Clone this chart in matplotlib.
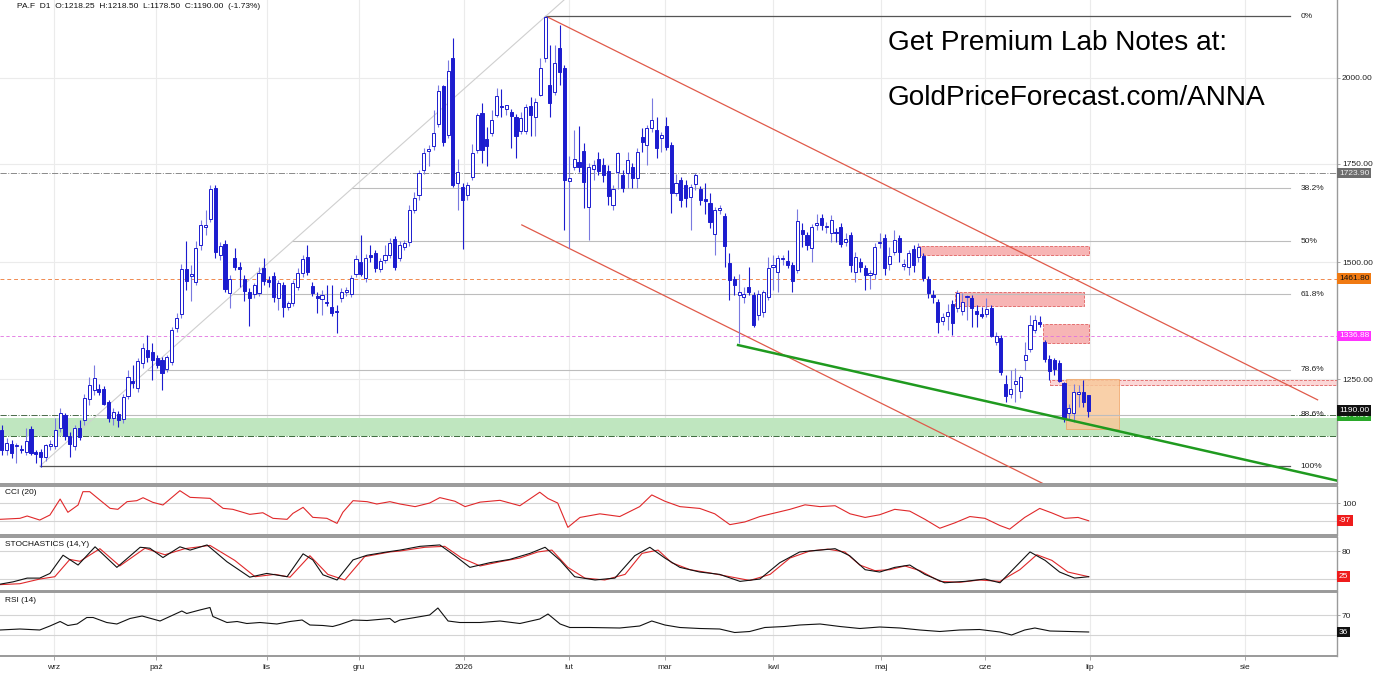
import numpy as np
import matplotlib
matplotlib.use("Agg")
import matplotlib.pyplot as plt
from matplotlib.patches import Rectangle
from matplotlib import ticker

plt.rcParams['font.family'] = ['Liberation Sans', 'DejaVu Sans']

# daily candles (one per trading day)
opens = [1154, 1118, 1129, 1125, 1121, 1116, 1156, 1116, 1116, 1106, 1125, 1125, 1158, 1181, 1143, 1125, 1158, 1172, 1211, 1228,
         1230, 1230, 1205, 1176, 1183, 1174, 1217, 1246, 1232, 1281, 1307, 1303, 1291, 1287, 1269, 1283, 1353, 1383, 1484, 1468,
         1454, 1541, 1586, 1604, 1684, 1517, 1543, 1429, 1510, 1489, 1461, 1432, 1427, 1429, 1487, 1459, 1468, 1419, 1447, 1399,
         1407, 1443, 1475, 1513, 1445, 1423, 1416, 1410, 1399, 1390, 1419, 1432, 1427, 1472, 1501, 1463, 1517, 1522, 1485, 1505,
         1517, 1555, 1510, 1536, 1548, 1627, 1666, 1732, 1784, 1798, 1861, 1975, 1830, 2063, 1698, 1687, 1666, 1714, 1787, 1894,
         1818, 1836, 1888, 1914, 1905, 1897, 1882, 1841, 1841, 1914, 1882, 1948, 2063, 1978, 1957, 2095, 2032, 1704, 1740, 1755,
         1784, 1635, 1735, 1762, 1746, 1730, 1640, 1727, 1719, 1724, 1740, 1711, 1824, 1801, 1849, 1844, 1821, 1855, 1801, 1671,
         1706, 1692, 1660, 1695, 1682, 1655, 1645, 1567, 1627, 1612, 1499, 1461, 1425, 1421, 1443, 1425, 1381, 1388, 1421, 1489,
         1477, 1508, 1503, 1494, 1482, 1577, 1565, 1534, 1589, 1607, 1584, 1570, 1572, 1584, 1548, 1565, 1477, 1501, 1487, 1470,
         1472, 1546, 1558, 1496, 1524, 1558, 1491, 1489, 1531, 1512, 1515, 1461, 1425, 1410, 1368, 1379, 1405, 1396, 1390, 1421,
         1418, 1390, 1383, 1383, 1396, 1324, 1332, 1240, 1222, 1240, 1226, 1287, 1309, 1349, 1366, 1324, 1289, 1287, 1281, 1242,
         1185, 1185, 1222, 1224, 1218.25]
highs = [1163, 1140, 1136, 1131, 1128, 1158, 1161, 1118, 1121, 1130, 1136, 1176, 1195, 1186, 1150, 1163, 1172, 1222, 1254, 1277,
         1240, 1236, 1209, 1194, 1190, 1221, 1267, 1277, 1291, 1322, 1339, 1322, 1297, 1293, 1297, 1355, 1385, 1496, 1551, 1494,
         1551, 1602, 1627, 1692, 1692, 1548, 1553, 1470, 1534, 1500, 1470, 1440, 1452, 1489, 1510, 1468, 1477, 1459, 1454, 1412,
         1459, 1487, 1517, 1541, 1454, 1432, 1436, 1447, 1447, 1403, 1440, 1443, 1470, 1517, 1565, 1520, 1541, 1529, 1510, 1541,
         1558, 1563, 1551, 1553, 1640, 1674, 1732, 1792, 1801, 1902, 1978, 1978, 2057, 2128, 1762, 1697, 1700, 1804, 1894, 1923,
         1853, 1902, 1969, 1966, 1917, 1905, 1891, 1896, 1920, 1941, 1938, 2063, 2202, 2105, 2105, 2173, 2041, 1770, 1844, 1855,
         1807, 1752, 1760, 1781, 1765, 1746, 1692, 1781, 1732, 1781, 1752, 1792, 1849, 1858, 1938, 1882, 1838, 1882, 1810, 1722,
         1714, 1706, 1695, 1724, 1690, 1697, 1671, 1635, 1640, 1619, 1522, 1468, 1472, 1443, 1489, 1432, 1436, 1436, 1513, 1517,
         1517, 1517, 1529, 1501, 1629, 1594, 1572, 1592, 1617, 1617, 1597, 1614, 1582, 1594, 1570, 1572, 1524, 1510, 1494, 1482,
         1546, 1570, 1567, 1536, 1577, 1565, 1508, 1529, 1541, 1546, 1522, 1468, 1436, 1416, 1385, 1405, 1414, 1436, 1429, 1425,
         1425, 1403, 1399, 1418, 1403, 1345, 1339, 1257, 1267, 1271, 1257, 1324, 1381, 1381, 1379, 1328, 1297, 1291, 1287, 1244,
         1203, 1240, 1238, 1248, 1218.50]
lows = [1110, 1110, 1105, 1096, 1114, 1110, 1110, 1096, 1090, 1100, 1118, 1121, 1150, 1136, 1106, 1118, 1136, 1163, 1200, 1219,
        1220, 1200, 1168, 1163, 1159, 1167, 1211, 1232, 1224, 1271, 1283, 1248, 1271, 1228, 1263, 1277, 1345, 1374, 1436, 1412,
        1447, 1529, 1565, 1597, 1510, 1505, 1432, 1396, 1482, 1443, 1412, 1358, 1419, 1423, 1447, 1443, 1410, 1392, 1377, 1392,
        1401, 1436, 1466, 1470, 1423, 1385, 1381, 1401, 1379, 1343, 1410, 1423, 1421, 1466, 1468, 1454, 1501, 1477, 1477, 1498,
        1510, 1482, 1503, 1529, 1539, 1620, 1653, 1722, 1743, 1787, 1852, 1798, 1821, 1686, 1627, 1532, 1653, 1706, 1779, 1752,
        1743, 1827, 1882, 1882, 1888, 1792, 1764, 1833, 1833, 1827, 1827, 1944, 2050, 1882, 1948, 1978, 1577, 1534, 1732, 1727,
        1632, 1553, 1706, 1719, 1701, 1640, 1627, 1682, 1674, 1684, 1684, 1684, 1781, 1746, 1838, 1765, 1781, 1787, 1619, 1663,
        1635, 1635, 1577, 1679, 1640, 1617, 1582, 1517, 1617, 1488, 1414, 1425, 1322, 1407, 1425, 1355, 1370, 1377, 1414, 1436,
        1432, 1494, 1487, 1432, 1475, 1536, 1529, 1501, 1577, 1577, 1570, 1548, 1548, 1536, 1539, 1477, 1454, 1477, 1436, 1438,
        1461, 1534, 1470, 1482, 1517, 1501, 1482, 1470, 1477, 1501, 1456, 1419, 1407, 1343, 1360, 1349, 1339, 1388, 1381, 1370,
        1355, 1355, 1374, 1377, 1335, 1318, 1257, 1205, 1213, 1205, 1213, 1267, 1303, 1343, 1355, 1283, 1248, 1257, 1244, 1168,
        1172, 1168, 1196, 1196, 1178.50]
closes = [1118, 1132, 1114, 1128, 1118, 1134, 1114, 1112, 1106, 1127, 1129, 1154, 1186, 1143, 1130, 1158, 1141, 1213, 1238, 1252,
          1224, 1203, 1176, 1188, 1172, 1215, 1254, 1242, 1285, 1311, 1293, 1287, 1277, 1261, 1293, 1349, 1374, 1484, 1457, 1472,
          1534, 1591, 1591, 1682, 1524, 1539, 1438, 1461, 1489, 1485, 1434, 1419, 1447, 1475, 1456, 1454, 1421, 1452, 1399, 1407,
          1452, 1475, 1508, 1477, 1429, 1419, 1425, 1407, 1385, 1388, 1432, 1436, 1463, 1508, 1472, 1510, 1513, 1487, 1503, 1517,
          1546, 1489, 1541, 1546, 1627, 1658, 1724, 1779, 1790, 1836, 1960, 1809, 2022, 1692, 1727, 1653, 1692, 1779, 1888, 1787,
          1798, 1873, 1945, 1911, 1917, 1885, 1827, 1879, 1911, 1888, 1926, 2032, 2200, 1923, 2047, 2019, 1706, 1710, 1762, 1740,
          1700, 1740, 1746, 1730, 1719, 1663, 1682, 1779, 1684, 1760, 1711, 1781, 1810, 1849, 1873, 1792, 1830, 1796, 1671, 1698,
          1653, 1658, 1687, 1719, 1653, 1650, 1597, 1627, 1632, 1539, 1459, 1447, 1432, 1427, 1432, 1360, 1427, 1432, 1487, 1494,
          1510, 1510, 1494, 1456, 1600, 1567, 1541, 1584, 1594, 1589, 1587, 1602, 1570, 1543, 1555, 1494, 1512, 1489, 1470, 1475,
          1536, 1548, 1487, 1515, 1553, 1524, 1496, 1522, 1494, 1536, 1463, 1429, 1421, 1366, 1377, 1388, 1364, 1429, 1410, 1423,
          1396, 1383, 1379, 1394, 1337, 1337, 1263, 1217, 1230, 1246, 1254, 1297, 1360, 1370, 1362, 1289, 1265, 1269, 1246, 1176,
          1194, 1224, 1224, 1205, 1190.00]

# month ticks (position in bars)
month_pos = [10.7, 31.8, 54.6, 73.6, 95.3, 116.9, 136.7, 159.0, 181.2, 202.7, 224.3, 256.3]
month_lbl = ['wrz', 'paź', 'lis', 'gru', '2026', 'lut', 'mar', 'kwi', 'maj', 'cze', 'lip', 'sie']

# fibonacci anchors (bar, price) and ratios
fib_lo = (7.8, 1091.0)
fib_hi = (112.0, 2202.0)
fib_ratios = [0.0, 0.382, 0.5, 0.618, 0.786, 0.886, 1.0]
fib_names = ['0%', '38.2%', '50%', '61.8%', '78.6%', '88.6%', '100%']
fib_right = 265.6
diag_end = (115.9, 2259.0)

# trend lines (bar, price)
chan_upper = [(112.6, 2199.0), (271.3, 1210.0)]
chan_lower = [(107.2, 1590.0), (214.6, 1062.0)]
green_line = [(151.8, 1318.0), (275.1, 1067.0)]

# zones: (x0, x1, p_low, p_high)
red_zones = [(188.9, 224.1, 1517, 1538), (196.5, 223.1, 1400, 1431), (214.6, 224.1, 1322, 1362)]
red_band = (216.1, 275.3, 1238, 1249)
orange_zone = (219.4, 230.3, 1156, 1250)
green_zone = (1143, 1176)

# horizontal levels
lvl_grey = 1723.90
lvl_orange = 1461.80
lvl_magenta = 1336.88
lvl_close = 1190.00
lvl_green = 1179.91

# indicators: (bar, value)
cci_x = [-0.4, 3.7, 5.2, 7.8, 9.9, 12.0, 13.6, 15.7, 16.7, 18.1, 20.2, 22.3, 23.9, 25.8, 27.8, 29.1, 31.1, 33.2, 36.7, 38.8,
         42.9, 45.6, 47.6, 51.1, 53.8, 55.9, 58.8, 60.0, 62.1, 64.1, 67.0, 69.1, 70.3, 72.4, 75.3, 77.3, 80.0, 82.1, 85.2, 88.2,
         90.3, 93.4, 95.5, 98.6, 102.7, 106.8, 110.9, 112.6, 114.6, 116.7, 119.2, 123.3, 127.4, 131.5, 134.0, 136.7, 139.8, 143.9,
         147.0, 150.1, 153.2, 156.3, 159.4, 162.5, 165.6, 168.7, 171.8, 174.9, 178.0, 181.0, 184.1, 187.2, 190.3, 193.4, 196.5,
         199.6, 202.7, 205.8, 207.8, 210.9, 214.0, 216.5, 219.2, 221.9, 224.1]
cci_v = [-81, -70, -44, -89, -33, 144, -3, 78, 226, 226, 133, 41, 30, 115, 126, 159, 108, 78, 237, 163,
         152, 41, 30, -26, -8, -70, -81, -15, 52, -59, -70, -126, -3, 126, 115, 89, 115, 89, 60, 100,
         160, 120, 60, 110, 130, 70, 220, 150, 100, -170, -60, -20, -50, 60, 190, 120, 60, 40,
         -20, -140, -110, -50, -10, 30, 80, 60, 70, -20, -60, -30, 30, 10, -80, -180, -120,
         -50, -70, -150, -190, -60, 40, -10, -70, -60, -97]

stk_x = [-0.4, 2.3, 5.2, 7.8, 9.9, 12.6, 15.7, 19.2, 23.7, 28.5, 30.5, 33.2, 36.7, 38.8, 42.3, 46.4, 51.1, 54.6, 58.8, 62.1,
         64.1, 66.2, 69.1, 72.4, 75.3, 79.4, 82.1, 86.2, 90.3, 93.4, 96.5, 100.6, 104.7, 108.9, 112.0, 115.1, 118.1, 122.3, 126.4,
         130.5, 133.6, 136.7, 139.8, 143.9, 148.0, 152.2, 156.3, 160.4, 164.5, 168.7, 171.8, 174.8, 178.0, 181.0, 184.1, 187.2,
         190.3, 194.4, 198.6, 202.7, 205.8, 208.9, 212.0, 215.1, 218.1, 221.2, 224.1]
stk_k = [9, 14, 22, 22, 32, 71, 50, 89, 45, 88, 86, 66, 89, 82, 93, 57, 24, 32, 25, 74,
         61, 29, 18, 61, 71, 78, 82, 90, 93, 70, 45, 55, 62, 75, 88, 60, 25, 18, 22,
         70, 88, 65, 45, 35, 30, 15, 20, 55, 78, 82, 85, 70, 40, 35, 45, 50,
         30, 12, 15, 20, 12, 45, 78, 60, 35, 22, 25]
std_x = [-0.4, 3.7, 7.8, 10.9, 14.0, 16.1, 20.2, 24.3, 29.5, 33.6, 37.7, 42.9, 48.0, 52.2, 56.3, 59.4, 63.5, 67.2, 70.7, 74.8,
         80.0, 82.1, 87.2, 91.3, 94.8, 98.6, 102.7, 106.8, 110.5, 113.4, 116.7, 120.2, 124.3, 128.5, 132.0, 135.3, 138.1, 141.9,
         146.0, 150.1, 154.2, 158.4, 162.5, 166.6, 170.3, 173.8, 176.9, 180.0, 183.1, 186.2, 189.3, 193.4, 197.5, 201.6, 205.8,
         209.9, 213.4, 216.5, 219.8, 224.1]
std_v = [8, 10, 20, 25, 62, 58, 85, 48, 86, 72, 85, 92, 60, 25, 30, 24, 70, 30, 18, 68,
         78, 80, 88, 90, 65, 48, 57, 65, 78, 82, 45, 22, 18, 30, 75, 82, 55, 40,
         33, 25, 17, 30, 65, 80, 84, 78, 50, 38, 40, 48, 38, 15, 13, 18, 15,
         40, 72, 60, 35, 25]

rsi_x = [-0.4, 3.7, 7.8, 9.9, 12.0, 13.6, 15.5, 17.5, 18.8, 21.6, 23.7, 26.4, 28.9, 32.6, 35.3, 37.1, 38.1, 40.8, 42.9, 43.5,
         46.4, 48.5, 50.5, 53.2, 56.7, 59.4, 61.9, 63.5, 66.2, 68.2, 69.7, 72.4, 75.3, 80.0, 81.0, 82.1, 85.2, 88.2, 89.9, 92.0,
         94.4, 98.6, 102.7, 106.8, 110.9, 112.6, 115.1, 117.1, 121.2, 127.4, 131.5, 134.0, 136.7, 139.8, 143.9, 148.0, 151.1,
         154.2, 157.3, 161.4, 164.5, 168.7, 172.8, 176.9, 181.0, 185.2, 189.3, 193.4, 197.5, 201.6, 205.8, 208.2, 210.9, 213.0,
         216.1, 220.2, 224.1]
rsi_v = [40, 42, 40, 48, 57, 49, 52, 65, 65, 55, 52, 63, 68, 58, 70, 78, 73, 80, 85, 67,
         55, 57, 53, 55, 52, 57, 60, 50, 49, 47, 51, 60, 59, 63, 55, 60, 65, 70, 84, 58,
         55, 55, 58, 53, 62, 72, 52, 45, 45, 44, 48, 58, 50, 45, 43, 42, 35,
         37, 45, 47, 50, 52, 47, 43, 46, 44, 40, 37, 40, 41, 36, 30, 40, 44,
         38, 37, 36]

W, H = 1386, 674
XLIM = (-0.4, 275.3)
GRID = '#ebebeb'
SPINE = '#9a9a9a'
BLUE = '#1c1ccf'
FS = 6.0


def panel(top, bot):
    return fig.add_axes([0, 1 - bot / H, 1337 / W, (bot - top) / H])


def value_box(a, y, txt, bg, fg):
    a.text(1.0015, y, txt, transform=a.get_yaxis_transform(), fontsize=FS, color=fg,
           ha='left', va='center', clip_on=False, zorder=10,
           bbox=dict(boxstyle='square,pad=0.22', fc=bg, ec='none'))


fig = plt.figure(figsize=(W / 100, H / 100), dpi=100)
ax = panel(0, 484)
ax_cci = panel(486, 535)
ax_sto = panel(537, 591)
ax_rsi = panel(592, 656)

for a in (ax, ax_cci, ax_sto, ax_rsi):
    a.set_xlim(*XLIM)
    a.spines['left'].set_visible(False)
    a.spines['right'].set_color(SPINE)
    a.spines['right'].set_linewidth(1.0)
    for s in ('top', 'bottom'):
        a.spines[s].set_color(SPINE)
        a.spines[s].set_linewidth(1.4)
    a.yaxis.tick_right()
    a.tick_params(axis='y', length=2, width=0.6, color=SPINE, labelsize=FS, pad=1.5, labelcolor='#222222')
    a.set_xticks(month_pos)
    for m in month_pos:
        a.axvline(m, color=GRID, lw=0.8, zorder=0)
    a.set_facecolor('white')
ax.spines['top'].set_visible(False)

for a in (ax, ax_cci, ax_sto):
    a.tick_params(axis='x', length=0, labelbottom=False)
ax_rsi.set_xticklabels(month_lbl)
ax_rsi.tick_params(axis='x', length=3, width=0.6, color=SPINE, labelsize=FS, pad=3, labelcolor='#222222')

# ---- price panel ----
ax.set_yscale('log')
ax.set_ylim(1061, 2259)
ax.yaxis.set_minor_locator(ticker.NullLocator())
ax.set_yticks([1250, 1500, 1750, 2000])
ax.set_yticklabels(['1250.00', '1500.00', '1750.00', '2000.00'])
for p in (1250, 1500, 1750, 2000):
    ax.axhline(p, color=GRID, lw=0.8, zorder=0)

# zones
ax.add_patch(Rectangle((XLIM[0], green_zone[0]), XLIM[1] - XLIM[0], green_zone[1] - green_zone[0],
                       fc='#bfe6bf', ec='none', zorder=1))
for x0, x1, p0, p1 in red_zones:
    ax.add_patch(Rectangle((x0, p0), x1 - x0, p1 - p0, fc='#f7b5b5', ec='#e06060', lw=0.6, ls='--', zorder=1))
x0, x1, p0, p1 = red_band
ax.add_patch(Rectangle((x0, p0), x1 - x0, p1 - p0, fc='#fbd6d6', ec='#e06060', lw=0.6, ls='--', zorder=1))
x0, x1, p0, p1 = orange_zone
ax.add_patch(Rectangle((x0, p0), x1 - x0, p1 - p0, fc='#f8c89a', ec='#eea060', lw=0.6, alpha=0.85, zorder=1))

# horizontal levels
ax.axhline(lvl_grey, color='#8a8a8a', lw=0.7, ls='-.', zorder=1)
ax.axhline(lvl_orange, color='#f08a50', lw=0.7, ls=(0, (4, 3)), zorder=1)
ax.axhline(lvl_magenta, color='#e070e0', lw=0.6, ls=(0, (4, 3)), zorder=1)
ax.axhline(1181, color='#4a6a4a', lw=0.7, ls='-.', zorder=1)
ax.axhline(green_zone[0], color='#3a6a3a', lw=0.7, ls='-.', zorder=1)

# fibonacci retracement (log scale)
lnlo, lnhi = np.log(fib_lo[1]), np.log(fib_hi[1])
for r, name in zip(fib_ratios, fib_names):
    lvl = np.exp(lnhi - r * (lnhi - lnlo))
    xs = fib_hi[0] - r * (fib_hi[0] - fib_lo[0])
    dark = r in (0.0, 1.0)
    ax.plot([xs, fib_right], [lvl, lvl], color='#555555' if dark else '#bdbdbd', lw=0.9 if dark else 0.8, zorder=2)
    ax.text(fib_right + 2.2, lvl, name, fontsize=FS, va='center', ha='left', color='#222222', zorder=6)
ax.plot([fib_lo[0], diag_end[0]], [fib_lo[1], diag_end[1]], color='#cfcfcf', lw=0.8, zorder=2)

# trend lines
for ln_ in (chan_upper, chan_lower):
    ax.plot([ln_[0][0], ln_[1][0]], [ln_[0][1], ln_[1][1]], color='#e05a4a', lw=0.9, zorder=2)
ax.plot([green_line[0][0], green_line[1][0]], [green_line[0][1], green_line[1][1]], color='#1f9a1f', lw=1.8, zorder=5)

# candles
o = np.array(opens, dtype=float)
h = np.array(highs, dtype=float)
l = np.array(lows, dtype=float)
c = np.array(closes, dtype=float)
idx = np.arange(len(c))
up = c >= o
ax.vlines(idx[up], l[up], h[up], color='#7a7ae0', lw=0.8, zorder=3)
ax.vlines(idx[~up], l[~up], h[~up], color=BLUE, lw=0.8, zorder=3)
lo_b = np.minimum(o, c)
hi_b = np.maximum(o, c)
hgt = np.maximum(hi_b - lo_b, 2.5)
ax.bar(idx[up], hgt[up], bottom=lo_b[up], width=0.64, color='white', edgecolor=BLUE, linewidth=0.7, zorder=4)
ax.bar(idx[~up], hgt[~up], bottom=lo_b[~up], width=0.64, color=BLUE, edgecolor=BLUE, linewidth=0.7, zorder=4)

# price boxes
value_box(ax, lvl_grey, '1723.90', '#6d6d6d', '#eeeeee')
value_box(ax, lvl_orange, '1461.80', '#f07a12', '#111111')
value_box(ax, lvl_magenta, '1336.88', '#ff33ff', 'white')
value_box(ax, lvl_green, '1179.91', '#2aa82a', 'white')
value_box(ax, lvl_close, '1190.00', '#111111', 'white')

# ---- CCI ----
ax_cci.set_ylim(-255, 289)
ax_cci.set_yticks([100])
ax_cci.set_yticklabels(['100'])
for v in (100, -100):
    ax_cci.axhline(v, color='#d4d4d4', lw=0.8, zorder=0)
ax_cci.plot(cci_x, cci_v, color='#e0282a', lw=0.8)
ax_cci.text(0.004, 0.86, 'CCI (20)', transform=ax_cci.transAxes, fontsize=FS, va='center', color='#111111')
value_box(ax_cci, -97, '-97', '#ee1c1c', 'white')

# ---- Stochastics ----
ax_sto.set_ylim(-5.6, 110)
ax_sto.set_yticks([80])
ax_sto.set_yticklabels(['80'])
for v in (80, 20):
    ax_sto.axhline(v, color='#d4d4d4', lw=0.8, zorder=0)
ax_sto.plot(stk_x, stk_k, color='#111111', lw=0.8, zorder=3)
ax_sto.plot(std_x, std_v, color='#e0282a', lw=0.8, zorder=2)
ax_sto.text(0.004, 0.87, 'STOCHASTICS (14,Y)', transform=ax_sto.transAxes, fontsize=FS, va='center', color='#111111')
value_box(ax_sto, 25, '25', '#ee1c1c', 'white')

# ---- RSI ----
ax_rsi.set_ylim(-12, 116)
ax_rsi.set_yticks([70])
ax_rsi.set_yticklabels(['70'])
for v in (70, 30):
    ax_rsi.axhline(v, color='#d4d4d4', lw=0.8, zorder=0)
ax_rsi.plot(rsi_x, rsi_v, color='#111111', lw=0.8)
ax_rsi.text(0.004, 0.86, 'RSI (14)', transform=ax_rsi.transAxes, fontsize=FS, va='center', color='#111111')
value_box(ax_rsi, 36, '36', '#111111', 'white')

# header and promo text
fig.text(17 / W, 1 - 7 / H, 'PA.F  D1  O:1218.25  H:1218.50  L:1178.50  C:1190.00  (-1.73%)',
         fontsize=6.0, va='center', ha='left', color='#111111')
fig.text(888 / W, 1 - 43 / H, 'Get Premium Lab Notes at:', fontsize=20.2, va='center', ha='left', color='black')
fig.text(888 / W, 1 - 98 / H, 'GoldPriceForecast.com/ANNA', fontsize=20.2, va='center', ha='left', color='black')

fig.savefig('out.png', dpi=100)
